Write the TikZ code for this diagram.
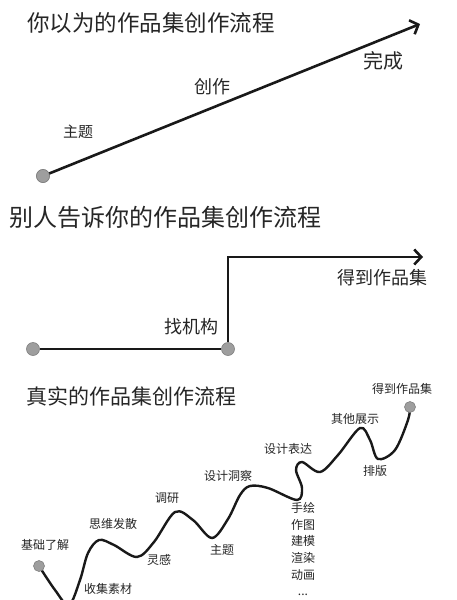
\documentclass[tikz,border=0pt]{standalone}
\usepackage{fontspec}
\setmainfont{Noto Sans CJK SC}
\usetikzlibrary{arrows.meta}
\begin{document}
\begin{tikzpicture}[x=1pt,y=-1pt,
  dot/.style={circle, fill=black!38, draw=black!50, line width=0.6pt, inner sep=0pt, minimum size=13pt},
  sdot/.style={dot, minimum size=11pt},
  ttl/.style={anchor=west, inner sep=0pt, text=black!85},
  lbl/.style={inner sep=0pt, text=black!85},
  slbl/.style={lbl, font=\fontsize{12}{14}\selectfont},
  flow/.style={line width=2.6pt, black!90},
  arr/.style={-{Straight Barb[length=7pt,width=15pt]}}]
\useasboundingbox[fill=white] (0,0) rectangle (457,600);

% ---------- section 1 ----------
\node[ttl, font=\fontsize{22.5}{24}\selectfont] (t1) at (27,23) {你以为的作品集创作流程};
\node[dot] (s1) at (43,176) {};
\coordinate (e1) at (420,24);
\draw[flow,arr] (s1.center) -- (e1);
\node[dot] at (43,176) {};
\node[lbl, font=\fontsize{15}{17}\selectfont] (l11) at (78,132) {主题};
\node[lbl, font=\fontsize{18}{20}\selectfont] (l12) at (212,87) {创作};
\node[lbl, font=\fontsize{20}{22}\selectfont] (l13) at (383,61) {完成};

% ---------- section 2 ----------
\node[ttl, font=\fontsize{24}{26}\selectfont] (t2) at (9,217) {别人告诉你的作品集创作流程};
\node[dot] (a2) at (33,349) {};
\node[dot] (b2) at (228,349) {};
\coordinate (c2) at (228,257);
\coordinate (e2) at (423,257);
\draw[flow] (a2) -- (b2);
\draw[flow,arr] (b2) -- (c2) -- (e2);
\node[lbl, font=\fontsize{18}{20}\selectfont] (l21) at (382,278) {得到作品集};
\node[lbl, font=\fontsize{18}{20}\selectfont] (l22) at (191,327) {找机构};

% ---------- section 3 ----------
\node[ttl, font=\fontsize{21}{23}\selectfont] (t3) at (26,396) {真实的作品集创作流程};
\begin{scope}
\clip (0,0) rectangle (457,600);
\draw[flow, line width=2.4pt] plot[smooth, tension=0.55] coordinates {
 (39,566) (55,590) (69,605) (80,580) (88,553) (99,540) (114,545) (137,557)
 (154,542) (175,512) (193,520) (212,538) (228,519) (240,495) (250,486)
 (268,488) (297,500) (302,488) (296,470) (302,462) (320,472) (338,455)
 (360,428) (370,440) (378,459) (395,450) (408,420) (410,407)};
\end{scope}
\node[sdot] (a3) at (39,566) {};
\node[sdot] (b3) at (410,407) {};
\node[slbl] (m1) at (45,545) {基础了解};
\node[slbl] (m2) at (108,589) {收集素材};
\node[slbl] (m3) at (113,524) {思维发散};
\node[slbl] (m4) at (159,560) {灵感};
\node[slbl] (m5) at (167,498) {调研};
\node[slbl] (m6) at (222,550) {主题};
\node[slbl] (m7) at (228,476) {设计洞察};
\node[slbl] (m8) at (288,449) {设计表达};
\node[slbl] (m9) at (355,419) {其他展示};
\node[slbl] (m10) at (375,471) {排版};
\node[slbl] (m11) at (402,389) {得到作品集};
\node[lbl, font=\fontsize{12}{16.7}\selectfont, align=center, anchor=north] (m12) at (303,502) {手绘\\作图\\建模\\渲染\\动画\\...};
\end{tikzpicture}
\end{document}
